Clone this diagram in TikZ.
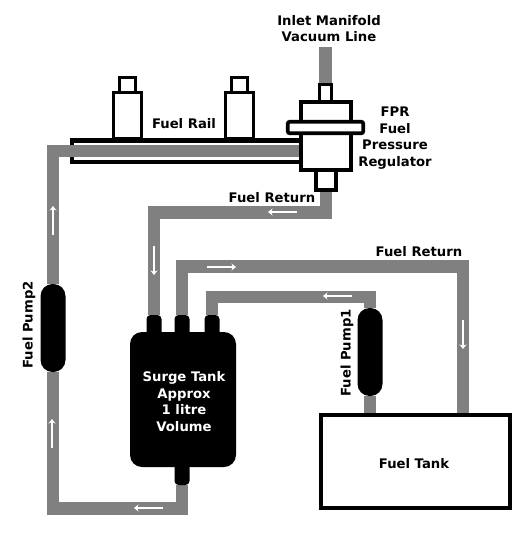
\documentclass[tikz,border=0pt]{standalone}
\usepackage{fontspec}
\setmainfont{DejaVu Sans}
\usetikzlibrary{arrows.meta}
\pgfdeclarelayer{railback}
\pgfdeclarelayer{piping}
\pgfsetlayers{railback,piping,main}
\definecolor{pipegrey}{HTML}{808080}
\tikzset{
  box/.style={draw=black,fill=white,rectangle,inner sep=0pt,line width=3pt},
  regbox/.style={box,line width=3.7pt},
  solidpart/.style={fill=black,rectangle,inner sep=0pt,draw=none},
  pumpbody/.style={solidpart,rounded corners=12pt,minimum width=25pt,minimum height=88pt},
  nipple/.style={solidpart,rounded corners=4pt,minimum width=15pt,minimum height=24pt},
  pipe/.style={draw=pipegrey,line width=12.5pt,line join=miter},
  flow/.style={draw=white,line width=2.8pt,-{Stealth[length=4.5pt,width=7pt]}},
  lab/.style={font=\bfseries\fontsize{13.2pt}{16.7pt}\selectfont,inner sep=0pt,align=center},
  wlab/.style={lab,text=white},
}
\begin{document}
\begin{tikzpicture}[x=1pt,y=-1pt]
\useasboundingbox (0,0) rectangle (528,547);

% fuel rail
\begin{pgfonlayer}{railback}
  \fill[white] (0,0) rectangle (528,547);
  \node[box,line width=4.5pt,minimum width=230pt,minimum height=21.5pt] (rail) at (187,151) {};
\end{pgfonlayer}

% injectors
\node[box,minimum width=16pt,minimum height=15pt] (capa) at (127.5,84.5) {};
\node[box,minimum width=28pt,minimum height=46pt] (inja) at (127.5,115.5) {};
\node[box,minimum width=16pt,minimum height=15pt] (capb) at (239.5,84.5) {};
\node[box,minimum width=28pt,minimum height=46pt] (injb) at (239.5,115.5) {};

% regulator
\node[box,minimum width=12pt,minimum height=20pt] (fprtop) at (325.5,94) {};
\node[regbox,minimum width=50.5pt,minimum height=22pt] (fprup) at (326,113) {};
\node[regbox,minimum width=20.5pt,minimum height=22pt] (fprbot) at (326,179) {};
\node[regbox,minimum width=50.5pt,minimum height=38pt] (fprlow) at (326,151) {};
\node[regbox,rounded corners=2pt,minimum width=75.5pt,minimum height=11.5pt] (flange) at (325.5,127.5) {};

% surge tank and pumps
\node[solidpart,rounded corners=12pt,minimum width=106pt,minimum height=135pt] (surge) at (183,399.5) {};
\node[nipple] (nipa) at (154,327) {};
\node[nipple] (nipb) at (182,327) {};
\node[nipple] (nipc) at (212,327) {};
\node[nipple] (nipd) at (182,473) {};
\node[pumpbody] (pumptwo) at (53,328) {};
\node[pumpbody] (pumpone) at (370,352) {};

% fuel tank
\node[box,line width=4pt,minimum width=189pt,minimum height=93pt] (tank) at (415.5,461.5) {};

% corner and free-end points
\coordinate (vactop) at (325.5,47);
\coordinate (retcorner) at (154,212.5);
\coordinate (hicornera) at (182,266.5);
\coordinate (hicornerb) at (463,266.5);
\coordinate (midcorner) at (212,297);
\coordinate (lowcorner) at (53,508.5);
\coordinate (tankret) at (463,413);

% pipes
\begin{pgfonlayer}{piping}
  \draw[pipe] (vactop) -- (fprtop.north);
  \draw[pipe] (fprlow.west) -| (pumptwo.north);
  \draw[pipe] (pumptwo.south) |- (lowcorner) -| (nipd.south);
  \draw[pipe] (fprbot.south) |- (retcorner) -- (nipa.north);
  \draw[pipe] (nipb.north) -- (hicornera) -- (hicornerb) -- (tankret);
  \draw[pipe] (nipc.north) -- (midcorner) -| (pumpone.north);
  \draw[pipe] (pumpone.south) -- (pumpone.south |- tank.north);
\end{pgfonlayer}

% flow arrows
\coordinate (fas) at (53,235);   \coordinate (fae) at (53,206);
\coordinate (fbs) at (52,448);   \coordinate (fbe) at (52,419);
\coordinate (fcs) at (163,508);  \coordinate (fce) at (134,508);
\coordinate (fds) at (297,212);  \coordinate (fde) at (268,212);
\coordinate (fes) at (154,246);  \coordinate (fee) at (154,275);
\coordinate (ffs) at (207,267);  \coordinate (ffe) at (236,267);
\coordinate (fgs) at (352,296);  \coordinate (fge) at (323,296);
\coordinate (fhs) at (463,320);  \coordinate (fhe) at (463,349);
\foreach \p in {a,b,c,d,e,f,g,h} \draw[flow] (f\p s) -- (f\p e);

% labels
\node[lab] (tinlet) at (329,28.5) {Inlet Manifold\\Vacuum Line};
\node[lab] (trail) at (184,124) {Fuel Rail};
\node[lab] (tfpr) at (395,138) {FPR\\Fuel\\Pressure\\Regulator};
\node[lab] (tretone) at (272,198) {Fuel Return};
\node[lab] (trettwo) at (419,252) {Fuel Return};
\node[lab] (ttank) at (414,464) {Fuel Tank};
\node[lab,rotate=90] (tpumpone) at (347,353) {Fuel Pump1};
\node[lab,rotate=90] (tpumptwo) at (29,325) {Fuel Pump2};
\node[wlab] (tsurge) at (184,401.5) {Surge Tank\\Approx\\1 litre\\Volume};
\end{tikzpicture}
\end{document}
